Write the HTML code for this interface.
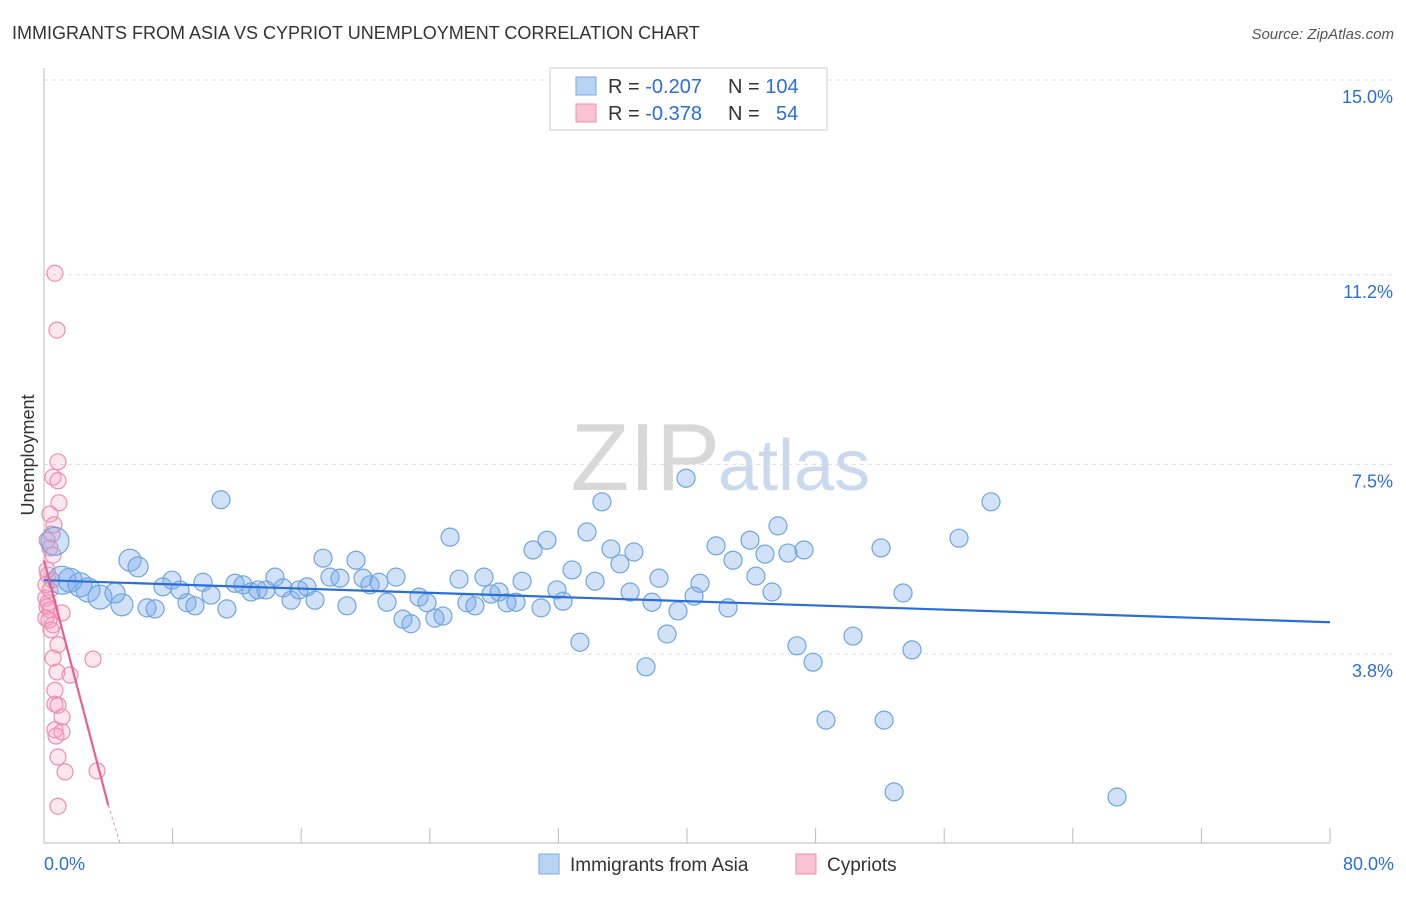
<!DOCTYPE html>
<html><head><meta charset="utf-8"><style>
body{margin:0;background:#fff;font-family:"Liberation Sans",sans-serif}
svg text{font-family:"Liberation Sans",sans-serif}
</style></head><body>
<svg id="chart" width="1406" height="892" viewBox="0 0 1406 892" xmlns="http://www.w3.org/2000/svg">
<text x="12" y="39" font-size="18" fill="#333">IMMIGRANTS FROM ASIA VS CYPRIOT UNEMPLOYMENT CORRELATION CHART</text>
<text x="1394" y="39" font-size="15" fill="#555" font-style="italic" text-anchor="end">Source: ZipAtlas.com</text>
<text x="720" y="490" font-size="96" fill="#d8d8d8" text-anchor="end" font-family="Liberation Serif">ZIP</text>
<text x="718" y="490" font-size="72" fill="#c9d9ee">atlas</text>
<text x="34" y="455" font-size="18" fill="#333" text-anchor="middle" transform="rotate(-90 34 455)">Unemployment</text>
<g id="grid"></g><g id="axes"></g><g id="pinkPts"></g><g id="bluePts"></g><g id="trends"></g>
<g>
<rect x="550" y="68" width="277" height="62" fill="#fff" stroke="#ccc"/>
<rect x="576" y="77" width="20" height="18" fill="#b9d3f3" stroke="#7aaae6"/>
<rect x="576" y="104" width="20" height="18" fill="#f9c3d4" stroke="#f08cb0"/>
<text x="608" y="93" font-size="20" fill="#333">R = <tspan fill="#2a6fd6">-0.207</tspan><tspan x="728">N = </tspan><tspan fill="#2a6fd6">104</tspan></text>
<text x="608" y="120" font-size="20" fill="#333">R = <tspan fill="#2a6fd6">-0.378</tspan><tspan x="728">N = </tspan><tspan fill="#2a6fd6" x="776">54</tspan></text>
</g>
<g>
<rect x="539" y="854" width="20" height="20" fill="#b9d3f3" stroke="#7aaae6"/>
<text x="570" y="871" font-size="19" fill="#333">Immigrants from Asia</text>
<rect x="796" y="854" width="20" height="20" fill="#f9c3d4" stroke="#f08cb0"/>
<text x="827" y="871" font-size="19" fill="#333">Cypriots</text>
</g>
</svg>
<script>
const yTicks=[15.0,11.2,7.5,3.8];
const yTickLabels=["15.0%","11.2%","7.5%","3.8%"];
const xTickLabels=["0.0%","80.0%"];
const blueX=[0.68,1.12,1.62,2.24,2.74,3.48,4.42,4.85,5.35,5.85,6.41,6.91,7.40,7.96,8.46,8.90,9.39,9.89,10.39,11.01,11.38,11.88,12.38,12.88,13.31,13.81,14.37,14.87,15.37,15.86,16.36,16.86,17.36,17.79,18.41,18.85,19.41,19.85,20.28,20.84,21.34,21.90,22.33,22.83,23.33,23.83,24.32,24.82,25.26,25.82,26.31,26.81,27.37,27.81,28.31,28.80,29.36,29.74,30.42,30.92,31.29,31.91,32.29,32.85,33.34,33.78,34.28,34.71,35.27,35.83,36.46,36.70,37.45,37.82,38.26,38.76,39.44,39.94,40.44,40.81,41.81,42.55,42.86,43.92,44.29,44.85,45.29,45.66,46.28,46.84,47.28,47.84,48.65,50.33,52.07,52.26,52.88,53.44,54.00,56.92,58.91,66.75];
const blueY=[6.00,5.24,5.24,5.15,5.05,4.91,4.99,4.76,5.63,5.50,4.70,4.68,5.11,5.24,5.05,4.80,4.74,5.20,4.95,6.81,4.68,5.18,5.15,5.01,5.05,5.05,5.30,5.09,4.85,5.05,5.11,4.85,5.67,5.30,5.28,4.74,5.63,5.28,5.15,5.20,4.81,5.30,4.48,4.39,4.91,4.80,4.50,4.54,6.08,5.26,4.80,4.74,5.30,4.97,5.01,4.80,4.81,5.22,5.83,4.70,6.02,5.05,4.83,5.44,4.03,6.18,5.22,6.77,5.85,5.56,5.01,5.79,3.55,4.81,5.28,4.19,4.64,7.23,4.93,5.18,5.91,4.70,5.63,6.02,5.32,5.75,5.01,6.30,5.77,3.96,5.83,3.64,2.51,4.15,5.87,2.51,1.11,4.99,3.88,6.06,6.77,1.01];
const blueBig=[14,14,12,12,12,12,10,11,11,10];
const pinkX=[0.68,0.81,0.87,0.56,0.87,0.93,0.37,0.62,0.50,0.19,0.37,0.25,0.50,0.12,0.25,0.19,0.37,1.12,0.12,0.56,0.87,0.56,3.05,0.81,1.62,0.68,0.87,1.12,0.68,1.12,0.75,0.87,1.31,3.30,0.87,0.19,0.12,0.37,0.56,0.31,0.44,0.68];
const pinkY=[11.23,10.12,7.55,7.25,7.18,6.75,6.53,6.32,6.14,6.02,5.87,5.34,5.24,4.89,4.80,4.72,4.66,4.60,4.50,4.37,3.98,3.72,3.70,3.45,3.39,2.82,2.80,2.57,2.32,2.28,2.20,1.79,1.50,1.52,0.83,5.44,5.15,5.05,5.73,4.46,4.27,3.09];
const blueTrend=[[0,5.24],[80,4.42]];
const pinkTrend=[[0,5.63],[4.0,0.85]];
const pinkTrendDash=[[4.0,0.85],[4.73,0.11]];

const X=v=>44+v/80*1286, Y=v=>80+(15-v)*51.25;
const NS="http://www.w3.org/2000/svg";
function mk(tag,parent,attrs){const e=document.createElementNS(NS,tag);for(const k in attrs)e.setAttribute(k,attrs[k]);parent.appendChild(e);return e;}
const grid=document.getElementById('grid'),axes=document.getElementById('axes');
yTicks.forEach((t,i)=>{
 const l=mk('line',grid,{x1:44,x2:1392,y1:Y(t),y2:Y(t),stroke:'#ddd','stroke-dasharray':'4 4'});
 
 
 const tx=mk('text',axes,{x:1393,y:Y(t)+23,'font-size':18,fill:'#2a6fd6','text-anchor':'end'});
 tx.textContent=yTickLabels[i];
 
 
});
let a=mk('line',axes,{x1:44,x2:44,y1:68,y2:843,stroke:'#bbb'});


a=mk('line',axes,{x1:44,x2:1330,y1:843,y2:843,stroke:'#bbb'});


for(let i=0;i<=10;i++){
 const t=mk('line',axes,{x1:X(i*8),x2:X(i*8),y1:828,y2:843,stroke:'#bbb'});
 
 
}
[[0,'start',44],[80,'end',1394]].forEach((d,i)=>{
 const tx=mk('text',axes,{x:d[2],y:870,'font-size':18,fill:'#2a6fd6','text-anchor':d[1]});
 tx.textContent=xTickLabels[i];
 
 
});
const bp=document.getElementById('bluePts');
blueX.forEach((x,i)=>{
 const c=mk('circle',bp,{cx:X(x),cy:Y(blueY[i]),r:i<blueBig.length?blueBig[i]:9,fill:'rgba(120,170,235,0.35)',stroke:'#6fa5e0','stroke-width':1.2});
 
 
});
const pp=document.getElementById('pinkPts');
pinkX.forEach((x,i)=>{
 const c=mk('circle',pp,{cx:X(x),cy:Y(pinkY[i]),r:8,fill:'rgba(245,160,190,0.25)',stroke:'#f08cb0','stroke-width':1.2});
 
 
});
const tr=document.getElementById('trends');
let l=mk('line',tr,{x1:X(blueTrend[0][0]),y1:Y(blueTrend[0][1]),x2:X(blueTrend[1][0]),y2:Y(blueTrend[1][1]),stroke:'#2a6fd6','stroke-width':2.2});


l=mk('line',tr,{x1:X(pinkTrend[0][0]),y1:Y(pinkTrend[0][1]),x2:X(pinkTrend[1][0]),y2:Y(pinkTrend[1][1]),stroke:'#e8608f','stroke-width':2.2});


l=mk('line',tr,{x1:X(pinkTrendDash[0][0]),y1:Y(pinkTrendDash[0][1]),x2:X(pinkTrendDash[1][0]),y2:Y(pinkTrendDash[1][1]),stroke:'#e8a0b8','stroke-width':1.2,'stroke-dasharray':'3 3'});


</script>
</body></html>
